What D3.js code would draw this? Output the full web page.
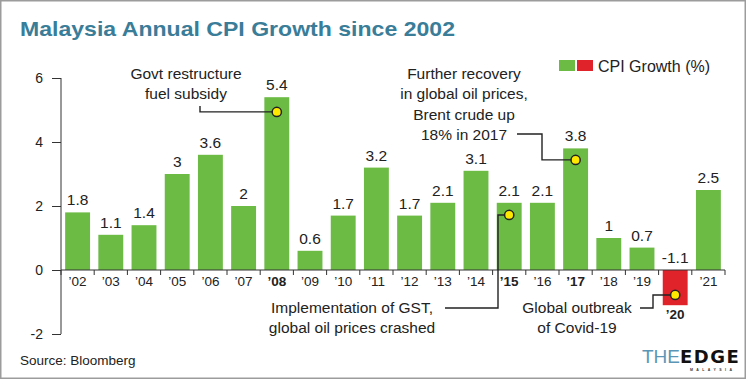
<!DOCTYPE html>
<html><head><meta charset="utf-8">
<script src="https://cdn.jsdelivr.net/npm/d3@7"></script>
<style>body{margin:0;background:#fff}svg{display:block}text{font-family:"Liberation Sans",Arial,Helvetica,sans-serif}</style>
</head><body><svg id="c" width="746" height="379"></svg>
<script>
const years = ["2002","2003","2004","2005","2006","2007","2008","2009","2010","2011","2012","2013","2014","2015","2016","2017","2018","2019","2020","2021"];
const tickLabels = ["’02","’03","’04","’05","’06","’07","’08","’09","’10","’11","’12","’13","’14","’15","’16","’17","’18","’19","’20","’21"];
const cpi = [1.8,1.1,1.4,3,3.6,2,5.4,0.6,1.7,3.2,1.7,2.1,3.1,2.1,2.1,3.8,1,0.7,-1.1,2.5];
const boldYears = ["2008","2015","2017","2020"];
const yTicks = [-2,0,2,4,6];
const annoYears = ["2008","2017","2015","2020"];
const annoDotValues = [4.94,3.44,1.72,-0.78];
const annoTexts = [["Govt restructure","fuel subsidy"],["Further recovery","in global oil prices,","Brent crude up","18% in 2017"],["Implementation of GST,","global oil prices crashed"],["Global outbreak","of Covid-19"]];

const svg = d3.select("#c");
const green = "#6cbb45", red = "#e0232b", axisCol = "#333";

svg.append("rect").attr("x",0.75).attr("y",0.75).attr("width",744.5).attr("height",377.5)
  .attr("fill","#fff").attr("stroke","#9c9c9c").attr("stroke-width",1.5);

svg.append("text").attr("x",20).attr("y",36).attr("font-size",20.5).attr("font-weight","bold")
  .attr("font-family","DejaVu Sans,sans-serif")
  .attr("textLength",435).attr("lengthAdjust","spacingAndGlyphs")
  .attr("fill","#3a7d99").text("Malaysia Annual CPI Growth since 2002");

const x = d3.scaleBand().domain(years).range([61,725]).paddingInner(0.25).paddingOuter(0.125);
const y = d3.scaleLinear().domain([-2,6]).range([334,78]);

// bars
svg.append("g").selectAll("rect").data(years).join("rect")
  .attr("x",d=>x(d)).attr("width",x.bandwidth())
  .attr("y",(d,i)=>y(Math.max(0,cpi[i])))
  .attr("height",(d,i)=>Math.abs(y(cpi[i])-y(0)))
  .attr("fill",(d,i)=>cpi[i]<0?red:green);

// y axis
const ya = svg.append("g").attr("transform","translate(61,0)")
  .call(d3.axisLeft(y).tickValues(yTicks).tickSize(9).tickPadding(9).tickFormat(d=>String(d)));
ya.select(".domain").attr("stroke",axisCol).attr("d","M0,78V334");
ya.selectAll(".tick line").attr("stroke",axisCol);
ya.selectAll(".tick text").attr("font-size",14).attr("fill","#222").attr("font-family","Liberation Sans,Arial,sans-serif");

// x axis line and boundary ticks
const xg = svg.append("g");
xg.append("line").attr("x1",x.range()[0]).attr("x2",x.range()[1]).attr("y1",y(0)).attr("y2",y(0)).attr("stroke",axisCol);
const bounds = years.map(d=>x(d)-x.step()*x.paddingInner()/2).concat([x.range()[1]]);
xg.selectAll("line.t").data(bounds).join("line").attr("class","t")
  .attr("x1",d=>d).attr("x2",d=>d).attr("y1",y(0)).attr("y2",y(0)+5).attr("stroke",axisCol);
xg.selectAll("text").data(years).join("text")
  .attr("x",d=>x(d)+x.bandwidth()/2)
  .attr("y",(d,i)=>cpi[i]<0?y(cpi[i])+14:y(0)+16)
  .attr("text-anchor","middle").attr("font-size",13.5)
  .attr("font-weight",d=>boldYears.includes(d)?"bold":"normal")
  .attr("fill","#222").text((d,i)=>tickLabels[i]);

// value labels
svg.append("g").selectAll("text").data(years).join("text")
  .attr("x",d=>x(d)+x.bandwidth()/2)
  .attr("y",(d,i)=>y(Math.max(0,cpi[i]))-7)
  .attr("text-anchor","middle").attr("font-size",15.5).attr("fill","#222")
  .text((d,i)=>cpi[i]);

// annotations
const ag = svg.append("g");
const dx = i=>x(annoYears[i])+x.bandwidth()/2;
const dy = i=>y(annoDotValues[i]);
const paths = [
  [[200,106],[200,dy(0)],[dx(0),dy(0)]],
  [[517,134],[542,134],[542,dy(1)],[dx(1),dy(1)]],
  [[445,308],[498,308],[498,dy(2)],[dx(2),dy(2)]],
  [[640,308],[653,308],[653,dy(3)],[dx(3),dy(3)]]
];
ag.selectAll("path").data(paths).join("path").attr("d",d=>d3.line()(d))
  .attr("fill","none").attr("stroke","#222").attr("stroke-width",1.4);
ag.selectAll("circle").data(annoYears).join("circle")
  .attr("cx",(d,i)=>dx(i)).attr("cy",(d,i)=>dy(i)).attr("r",4.6)
  .attr("fill","#ffe800").attr("stroke","#222").attr("stroke-width",1.5);
const textPos = [[186,79],[464,79],[352,313],[577,313]];
annoTexts.forEach((lines,i)=>{
  const t = ag.append("text").attr("text-anchor","middle").attr("font-size",15.5).attr("fill","#222");
  lines.forEach((l,j)=>t.append("tspan").attr("x",textPos[i][0]).attr("y",textPos[i][1]+j*20.3).text(l));
});

// legend
const lg = svg.append("g");
lg.append("rect").attr("x",559).attr("y",60).attr("width",16).attr("height",11).attr("fill",green);
lg.append("rect").attr("x",577).attr("y",60).attr("width",16).attr("height",11).attr("fill",red);
lg.append("text").attr("x",598).attr("y",71.5).attr("font-size",16).attr("fill","#222").text("CPI Growth (%)");

// source
svg.append("text").attr("x",20).attr("y",365).attr("font-size",13.5).attr("fill","#222").text("Source: Bloomberg");

// logo (one text element with two styled runs)
const logo = svg.append("text").attr("x",642).attr("y",363);
logo.append("tspan").attr("font-size",19).attr("fill","#5b96b6")
  .attr("font-family","Liberation Sans Narrow,Liberation Sans,sans-serif").text("THE");
logo.append("tspan").attr("font-size",18).attr("font-weight","900").attr("letter-spacing",1.5)
  .attr("fill","#111").attr("font-family","DejaVu Sans,sans-serif").text("EDGE");
svg.append("text").attr("x",690).attr("y",371).attr("font-size",3.5).attr("font-weight","bold")
  .attr("textLength",42).attr("lengthAdjust","spacing").attr("fill","#333").text("MALAYSIA");
</script></body></html>
